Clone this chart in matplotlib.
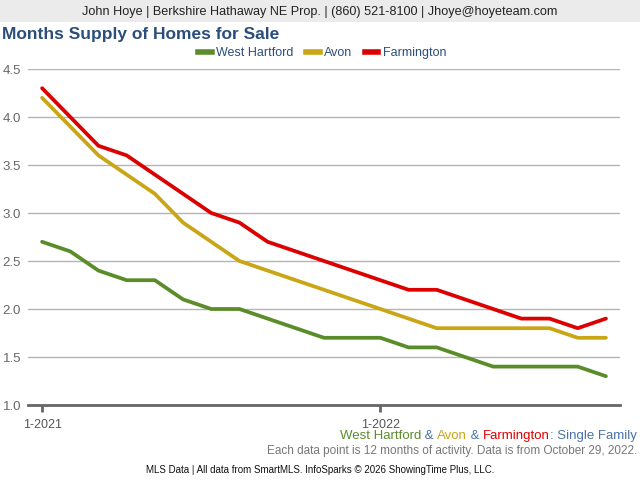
import matplotlib
matplotlib.use("Agg")
import matplotlib.pyplot as plt
from matplotlib.lines import Line2D

plt.rcParams['font.family'] = ['Liberation Sans', 'DejaVu Sans']

months = ['1-2021', '2-2021', '3-2021', '4-2021', '5-2021', '6-2021', '7-2021',
          '8-2021', '9-2021', '10-2021', '11-2021', '12-2021', '1-2022', '2-2022',
          '3-2022', '4-2022', '5-2022', '6-2022', '7-2022', '8-2022', '9-2022']
west_hartford = [2.7, 2.6, 2.4, 2.3, 2.3, 2.1, 2.0, 2.0, 1.9, 1.8, 1.7,
                 1.7, 1.7, 1.6, 1.6, 1.5, 1.4, 1.4, 1.4, 1.4, 1.3]
avon = [4.2, 3.9, 3.6, 3.4, 3.2, 2.9, 2.7, 2.5, 2.4, 2.3, 2.2,
        2.1, 2.0, 1.9, 1.8, 1.8, 1.8, 1.8, 1.8, 1.7, 1.7]
farmington = [4.3, 4.0, 3.7, 3.6, 3.4, 3.2, 3.0, 2.9, 2.7, 2.6, 2.5,
              2.4, 2.3, 2.2, 2.2, 2.1, 2.0, 1.9, 1.9, 1.8, 1.9]
names = ['West Hartford', 'Avon', 'Farmington']
colors = ['#5b8c2a', '#c9a616', '#dd0000']
yticks = [1.0, 1.5, 2.0, 2.5, 3.0, 3.5, 4.0, 4.5]

fig = plt.figure(figsize=(6.4, 4.8), dpi=100)
fig.patch.set_facecolor('white')

# header band
fig.patches.append(plt.Rectangle((0, 1 - 22/480), 1, 22/480, transform=fig.transFigure,
                                 facecolor='#ebebeb', edgecolor='none', zorder=0))
fig.text(0.5, 1 - 11.5/480, 'John Hoye | Berkshire Hathaway NE Prop. | (860) 521-8100 | Jhoye@hoyeteam.com',
         ha='center', va='center', fontsize=9.1, color='#222222')
fig.text(2/640, 1 - 35/480, 'Months Supply of Homes for Sale', ha='left', va='center',
         fontsize=12.5, fontweight='bold', color='#2b4e7a')

ax = fig.add_axes([28/640, 75/480, 592/640, 336/480])
x = list(range(len(months)))
for vals, name, c in zip([west_hartford, avon, farmington], names, colors):
    ax.plot(x, vals, color=c, lw=2.7, solid_capstyle='round', solid_joinstyle='round', label=name)

ax.set_xlim(-0.5, 20.5)
ax.set_ylim(1.0, 4.5)
ax.set_yticks(yticks)
ax.set_yticklabels([f'{v:.1f}' for v in yticks])
ax.yaxis.grid(True, color='#b4b4b4', lw=1)
ax.set_axisbelow(True)
ax.tick_params(axis='y', length=0, pad=5, labelsize=9.5, labelcolor='#666666')
ax.set_xticks([0, 12])
ax.set_xticklabels([months[0], months[12]])
ax.tick_params(axis='x', length=5, width=2, color='#666666', labelsize=9,
               labelcolor='#555555', pad=5)
for s in ['top', 'right', 'left']:
    ax.spines[s].set_visible(False)
ax.spines['bottom'].set_color('#666666')
ax.spines['bottom'].set_linewidth(2)

handles = [Line2D([0], [0], color=c, lw=4) for c in colors]
leg = fig.legend(handles, names, loc='center', bbox_to_anchor=(322/640, 1 - 53/480), ncol=3,
                 frameon=False, fontsize=9, handlelength=1.1, handletextpad=0.35,
                 columnspacing=1.0)
for t in leg.get_texts():
    t.set_color('#2b4e7a')

# colored subtitle, drawn right to left
fig.canvas.draw()
renderer = fig.canvas.get_renderer()
pieces = [('West Hartford', colors[0]), (' & ', '#4a72a8'), ('Avon', colors[1]), (' & ', '#4a72a8'),
          ('Farmington', colors[2]), (': Single Family', '#4a72a8')]
xr = 637
for txt, c in reversed(pieces):
    t = fig.text(xr/640, 1 - 436/480, txt, ha='right', va='center', fontsize=9.5, color=c)
    w = t.get_window_extent(renderer).width
    xr -= w

fig.text(637/640, 1 - 451/480, 'Each data point is 12 months of activity. Data is from October 29, 2022.',
         ha='right', va='center', fontsize=8.5, color='#777777')
fig.text(0.5, 1 - 470/480, 'MLS Data | All data from SmartMLS. InfoSparks \u00a9 2026 ShowingTime Plus, LLC.',
         ha='center', va='center', fontsize=7, color='#111111')

fig.savefig('out.png', dpi=100)
